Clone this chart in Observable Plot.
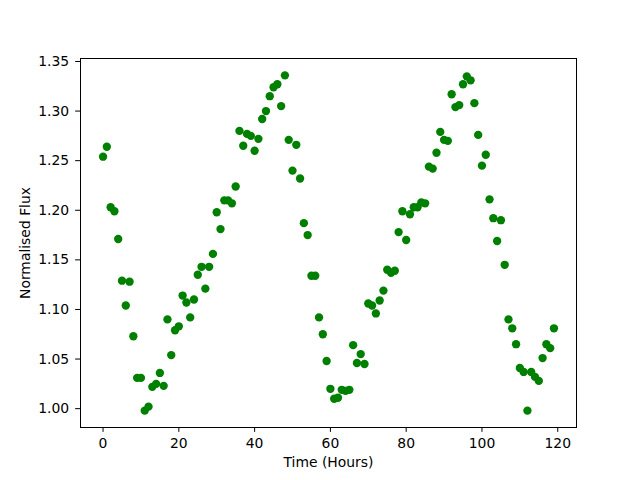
<!DOCTYPE html>
<html>
<head>
<meta charset="utf-8">
<script src="https://cdn.jsdelivr.net/npm/d3@7"></script>
<script src="https://cdn.jsdelivr.net/npm/@observablehq/plot@0.6"></script>
<style>
  html, body { margin: 0; padding: 0; background: #fff; }
</style>
</head>
<body>
<div id="chart"></div>
<script>
const hours = d3.range(0, 120);
const flux = [
  1.254, 1.264, 1.203, 1.199, 1.171, 1.129, 1.104, 1.128, 1.073, 1.031,
  1.031, 0.998, 1.002, 1.022, 1.025, 1.036, 1.023, 1.090, 1.054, 1.079,
  1.083, 1.114, 1.107, 1.092, 1.110, 1.135, 1.143, 1.121, 1.143, 1.156,
  1.198, 1.181, 1.210, 1.210, 1.207, 1.224, 1.280, 1.265, 1.277, 1.275,
  1.260, 1.272, 1.292, 1.300, 1.315, 1.324, 1.327, 1.305, 1.336, 1.271,
  1.240, 1.266, 1.232, 1.187, 1.175, 1.134, 1.134, 1.092, 1.075, 1.048,
  1.020, 1.010, 1.011, 1.019, 1.018, 1.019, 1.064, 1.046, 1.055, 1.045,
  1.106, 1.104, 1.096, 1.109, 1.119, 1.140, 1.137, 1.139, 1.178, 1.199,
  1.170, 1.196, 1.203, 1.203, 1.208, 1.207, 1.244, 1.242, 1.258, 1.279,
  1.271, 1.270, 1.317, 1.304, 1.306, 1.327, 1.335, 1.331, 1.308, 1.276,
  1.245, 1.256, 1.211, 1.192, 1.169, 1.190, 1.145, 1.090, 1.081, 1.065,
  1.041, 1.037, 0.998, 1.037, 1.032, 1.028, 1.051, 1.065, 1.061, 1.081
];
const xTicks = [0, 20, 40, 60, 80, 100, 120];
const yTicks = [1.00, 1.05, 1.10, 1.15, 1.20, 1.25, 1.30, 1.35];

const data = hours.map((h, i) => ({h, f: flux[i]}));

const chart = Plot.plot({
  width: 640,
  height: 480,
  marginLeft: 80,
  marginRight: 64,
  marginTop: 58,
  marginBottom: 53,
  style: {fontFamily: "DejaVu Sans", fontSize: "13.9px", color: "black", background: "white"},
  x: {domain: [-5.95, 124.95]},
  y: {domain: [0.981, 1.353]},
  marks: [
    Plot.dot(data, {x: "h", y: "f", r: 4.17, fill: "green", stroke: "none"}),
    Plot.frame({stroke: "black", strokeWidth: 1}),
    Plot.axisX({ticks: xTicks, tickSize: 4.86, tickPadding: 6, tickFormat: d3.format("d"),
      label: "Time (Hours)", labelAnchor: "center", labelArrow: "none", labelOffset: 39}),
    Plot.axisY({ticks: yTicks, tickSize: 4.86, tickPadding: 6.5, tickFormat: d3.format(".2f"),
      label: "Normalised Flux", labelAnchor: "center", labelArrow: "none", labelOffset: 60})
  ]
});
document.getElementById("chart").appendChild(chart);
</script>
</body>
</html>
